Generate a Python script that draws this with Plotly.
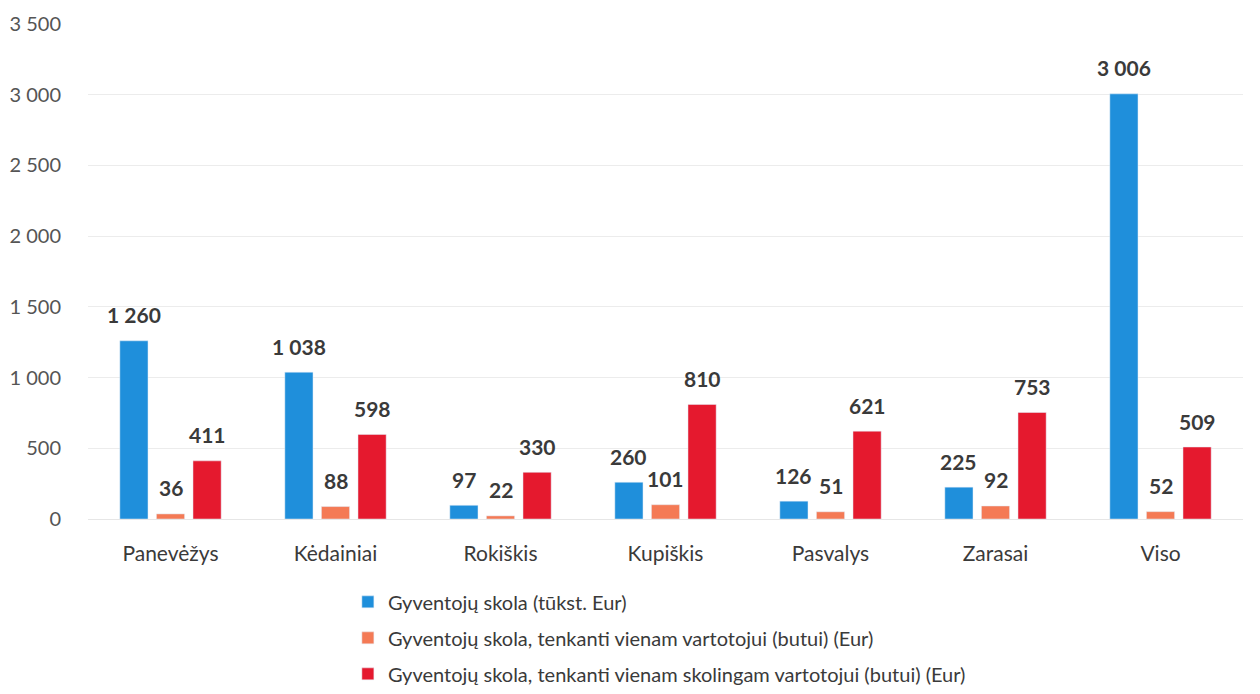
import plotly.graph_objects as go

categories = ["Panevėžys", "Kėdainiai", "Rokiškis", "Kupiškis", "Pasvalys", "Zarasai", "Viso"]
skola_tukst = [1260, 1038, 97, 260, 126, 225, 3006]
skola_vartotojui = [36, 88, 22, 101, 51, 92, 52]
skola_skolingam = [411, 598, 330, 810, 621, 753, 509]
series_names = [
    "Gyventojų skola (tūkst. Eur)",
    "Gyventojų skola, tenkanti vienam vartotojui (butui) (Eur)",
    "Gyventojų skola, tenkanti vienam skolingam vartotojui (butui) (Eur)",
]
y_ticks = [0, 500, 1000, 1500, 2000, 2500, 3000, 3500]

colors = ["#1F8FDB", "#F47A55", "#E5192E"]
series = [skola_tukst, skola_vartotojui, skola_skolingam]
FONT = "Lato, 'Open Sans', sans-serif"

fig = go.Figure()
for i, (name, vals) in enumerate(zip(series_names, series)):
    fig.add_trace(go.Bar(
        x=categories, y=vals, name=name, marker_color=colors[i],
        legendgroup=f"g{i}",
    ))

slot = 165 * (1 - 0.335) / 3
for i, vals in enumerate(series):
    for c, v in zip(categories, vals):
        fig.add_annotation(
            x=c, y=v, xref="x", yref="y", text=f"<b>{v:,}</b>".replace(",", " "),
            showarrow=False, xshift=(i - 1) * slot, yshift=26,
            font=dict(family=FONT, size=21, color="#3a3a3a"),
        )

fig.update_layout(
    width=1252, height=686,
    margin=dict(l=80, r=17, t=16, b=175, autoexpand=False),
    paper_bgcolor="white", plot_bgcolor="white",
    barmode="group", bargap=0.335, bargroupgap=0.23,
    separators=", ",
    font=dict(family=FONT, color="#404040"),
    showlegend=True,
    legend=dict(
        orientation="v", x=0.225, xanchor="left", y=-0.128, yanchor="top",
        font=dict(family=FONT, size=20, color="#3a3a3a"),
        tracegroupgap=7, itemwidth=30,
    ),
)
fig.update_yaxes(
    range=[0, 3500], tickvals=y_ticks, tickformat=",d",
    showgrid=True, gridcolor="#ececec", gridwidth=1,
    zeroline=False, showline=False,
    tickfont=dict(family=FONT, size=20, color="#555555"),
    ticklabelstandoff=26,
)
fig.update_xaxes(
    showgrid=False, showline=True, linecolor="#e6e6e6",
    tickfont=dict(family=FONT, size=21, color="#3a3a3a"),
    ticklabelstandoff=16,
)

fig.write_html("out.html")
